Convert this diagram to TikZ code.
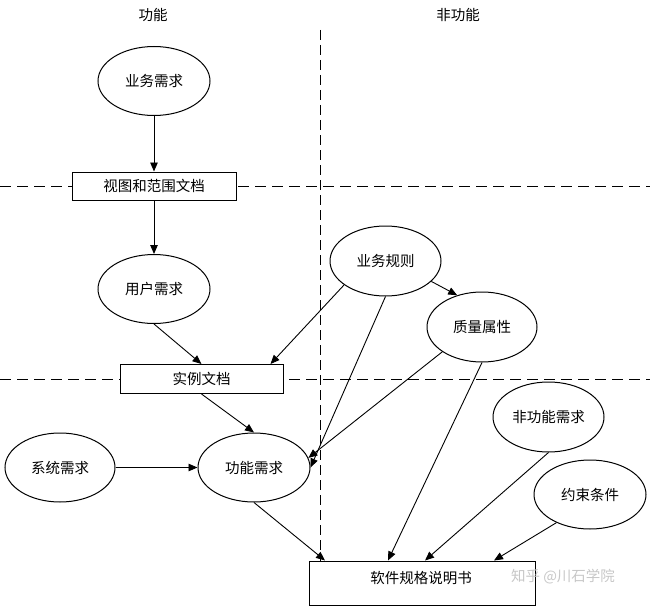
\documentclass[tikz,border=0pt]{standalone}
\usepackage{fontspec}
\setmainfont{Noto Sans CJK SC}
\usetikzlibrary{shapes.geometric,arrows.meta}
\begin{document}
\begin{tikzpicture}[x=1pt,y=-1pt,
  every node/.style={font=\fontsize{14.5}{16}\selectfont},
  ell/.style={draw,ellipse,line width=1pt,minimum width=112pt,minimum height=69pt,inner sep=0pt},
  doc/.style={draw,rectangle,line width=1pt,fill=white,inner sep=0pt},
  arr/.style={line width=0.9pt,-{Triangle[length=9pt,width=7.5pt]}},
  sep/.style={line width=1pt,dash pattern=on 11pt off 6pt}]
\useasboundingbox (0,0) rectangle (650,607);
% separators
\coordinate (vt) at (320,30);
\coordinate (vb) at (320,561);
\coordinate (h1l) at (0,186);
\coordinate (h1r) at (650,186);
\coordinate (h2l) at (0,379);
\coordinate (h2r) at (650,379);
\draw[sep,dash pattern=on 10pt off 5pt] (vt) -- (vb);
\draw[sep] (h1l) -- (h1r);
\draw[sep] (h2l) -- (h2r);
% headers
\node (hf) at (153,15) {功能};
\node (hn) at (458,15) {非功能};
% nodes
\node[ell] (br) at (154,81) {业务需求};
\node[doc,minimum width=164pt,minimum height=28pt] (vs) at (154,186) {视图和范围文档};
\node[ell] (ur) at (154,289) {用户需求};
\node[doc,minimum width=163pt,minimum height=29pt] (uc) at (201.5,379) {实例文档};
\node[ell,minimum width=111pt,minimum height=70pt] (rules) at (385.5,261) {业务规则};
\node[ell,minimum width=110pt,minimum height=70pt] (qa) at (482,327) {质量属性};
\node[ell,minimum width=111pt,minimum height=70pt] (nfr) at (548.5,417) {非功能需求};
\node[ell,minimum width=112pt,minimum height=69pt] (con) at (590,494.5) {约束条件};
\node[ell,minimum width=110pt,minimum height=69pt] (sr) at (60,467.5) {系统需求};
\node[ell] (fr) at (254,467.5) {功能需求};
\node[doc,minimum width=226pt,minimum height=44pt] (srs) at (422,583) {};
\node (srst) at (421,578) {软件规格说明书};
\node[text=black!22] (wm) at (563,577) {知乎 @川石学院};
% connectors
\draw[arr] (br) -- (vs);
\draw[arr] (vs) -- (ur);
\draw[arr] (ur.south) -- (uc.north);
\draw[arr] (rules.-24) -- (qa.128);
\draw[arr] (rules.-150) -- ([xshift=-13pt]uc.north east);
\draw[arr] (rules.south) -- (fr.east);
\draw[arr] (qa.-148) -- (fr.10);
\draw[arr] (qa.south) -- ([xshift=-34pt]srs.north);
\draw[arr] (uc.south) -- (fr.north);
\draw[arr] (sr) -- (fr);
\draw[arr] (fr.south) -- ([xshift=-97pt]srs.north);
\draw[arr] (nfr.south) -- ([xshift=3pt]srs.north);
\draw[arr] (con.-140) -- ([xshift=72pt]srs.north);
\end{tikzpicture}
\end{document}
